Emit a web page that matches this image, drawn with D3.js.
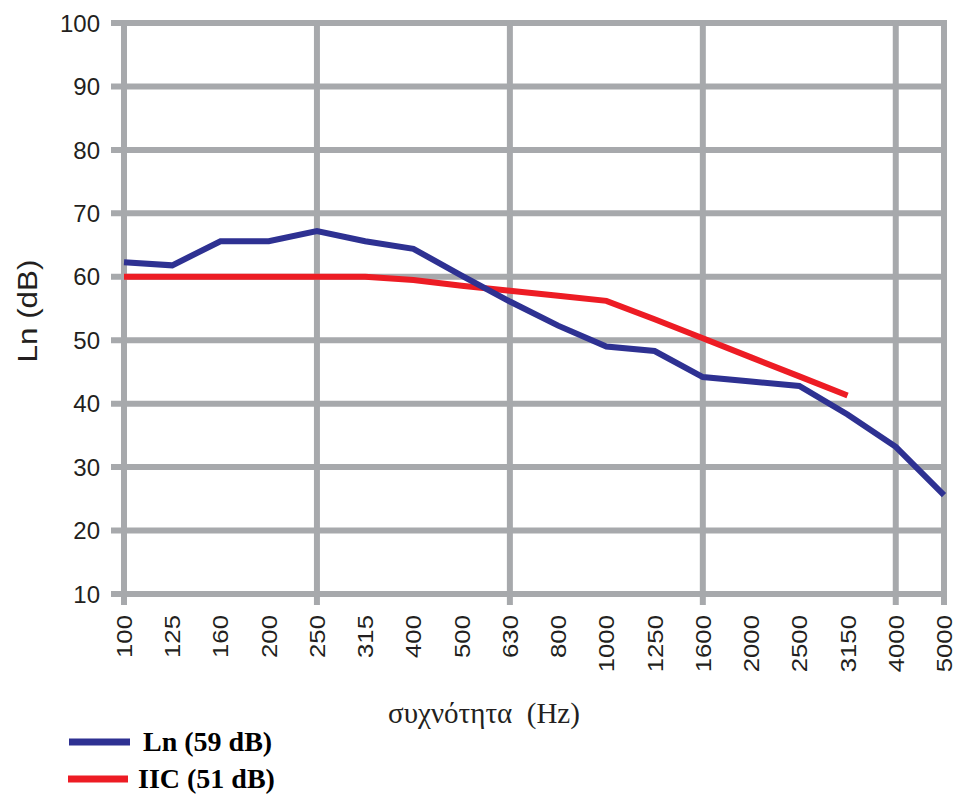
<!DOCTYPE html>
<html><head><meta charset="utf-8">
<script src="https://cdn.jsdelivr.net/npm/d3@7"></script>
<style>html,body{margin:0;padding:0;background:#fff;}</style>
</head><body>
<svg id="chart" width="956" height="794"></svg>
<script>
const frequencies = ["100","125","160","200","250","315","400","500","630","800","1000","1250","1600","2000","2500","3150","4000","5000"];
const lnValues = [62.3,61.8,65.6,65.6,67.2,65.6,64.4,60.2,56.1,52.3,49.0,48.3,44.2,43.5,42.8,38.3,33.2,25.6];
const iicValues = [60,60,60,60,60,60,59.5,58.6,57.8,57.0,56.2,53.3,50.3,47.3,44.3,41.3,null,null];
const yTicks = [10,20,30,40,50,60,70,80,90,100];
const gridFreqs = ["100","250","630","1600","4000","5000"];
const seriesNames = ["Ln (59 dB)","IIC (51 dB)"];

const svg = d3.select("#chart");
const plotLeft = 124, plotRight = 944, plotTop = 23, plotBottom = 594;
const x = d3.scalePoint().domain(frequencies).range([plotLeft, plotRight]);
const y = d3.scaleLinear().domain([10,100]).range([plotBottom, plotTop]);
const gridColor = "#a7a9ac";

// horizontal gridlines
svg.append("g").selectAll("line").data(yTicks).join("line")
  .attr("x1", plotLeft - 13).attr("x2", plotRight)
  .attr("y1", d => y(d)).attr("y2", d => y(d))
  .attr("stroke", gridColor).attr("stroke-width", 6);
// vertical gridlines
svg.append("g").selectAll("line").data(gridFreqs).join("line")
  .attr("x1", d => x(d)).attr("x2", d => x(d))
  .attr("y1", plotTop - 3).attr("y2", plotBottom + 11)
  .attr("stroke", gridColor).attr("stroke-width", 6);

// y tick labels
svg.append("g").selectAll("text").data(yTicks).join("text")
  .attr("x", 100).attr("y", d => y(d))
  .attr("dy", "0.36em").attr("text-anchor", "end")
  .attr("font-family", "Liberation Sans, Arial, sans-serif")
  .attr("font-size", 24).attr("fill", "#231f20")
  .text(d => d);

// x tick labels
svg.append("g").selectAll("text").data(frequencies).join("text")
  .attr("transform", d => `translate(${x(d)+8},615) rotate(-90) scale(1.17,1)`)
  .attr("text-anchor", "end")
  .attr("font-family", "Liberation Sans, Arial, sans-serif")
  .attr("font-size", 22).attr("fill", "#231f20")
  .text(d => d);

// axis titles
svg.append("text")
  .attr("transform", "translate(37,311) rotate(-90) scale(1.12,1)")
  .attr("text-anchor", "middle")
  .attr("font-family", "Liberation Sans, Arial, sans-serif")
  .attr("font-size", 28).attr("fill", "#231f20")
  .text("Ln (dB)");
svg.append("text")
  .attr("x", 484).attr("y", 723).attr("text-anchor", "middle")
  .attr("font-family", "Liberation Serif, Times New Roman, serif")
  .attr("font-size", 29).attr("fill", "#231f20")
  .attr("xml:space", "preserve")
  .text("συχνότητα  (Hz)");

// lines
const line = d3.line().defined(d => d.v != null).x(d => x(d.f)).y(d => y(d.v));
const lnData = frequencies.map((f,i) => ({f, v: lnValues[i]}));
const iicData = frequencies.map((f,i) => ({f, v: iicValues[i]}));
svg.append("path").datum(iicData).attr("d", line)
  .attr("fill", "none").attr("stroke", "#ed1c24").attr("stroke-width", 6);
svg.append("path").datum(lnData).attr("d", line)
  .attr("fill", "none").attr("stroke", "#2e3192").attr("stroke-width", 6);

// legend
const legend = [{name: seriesNames[0], color: "#2e3192", y: 742, x1: 69, x2: 130, tx: 143},
                {name: seriesNames[1], color: "#ed1c24", y: 779, x1: 68, x2: 128, tx: 138}];
const lg = svg.append("g").selectAll("g").data(legend).join("g");
lg.append("line").attr("x1", d => d.x1).attr("x2", d => d.x2)
  .attr("y1", d => d.y).attr("y2", d => d.y)
  .attr("stroke", d => d.color).attr("stroke-width", 7);
lg.append("text").attr("x", d => d.tx).attr("y", d => d.y + 9)
  .attr("font-family", "Liberation Serif, Times New Roman, serif")
  .attr("font-weight", "bold").attr("font-size", 28).attr("fill", "#000")
  .text(d => d.name);
</script>
</body></html>
